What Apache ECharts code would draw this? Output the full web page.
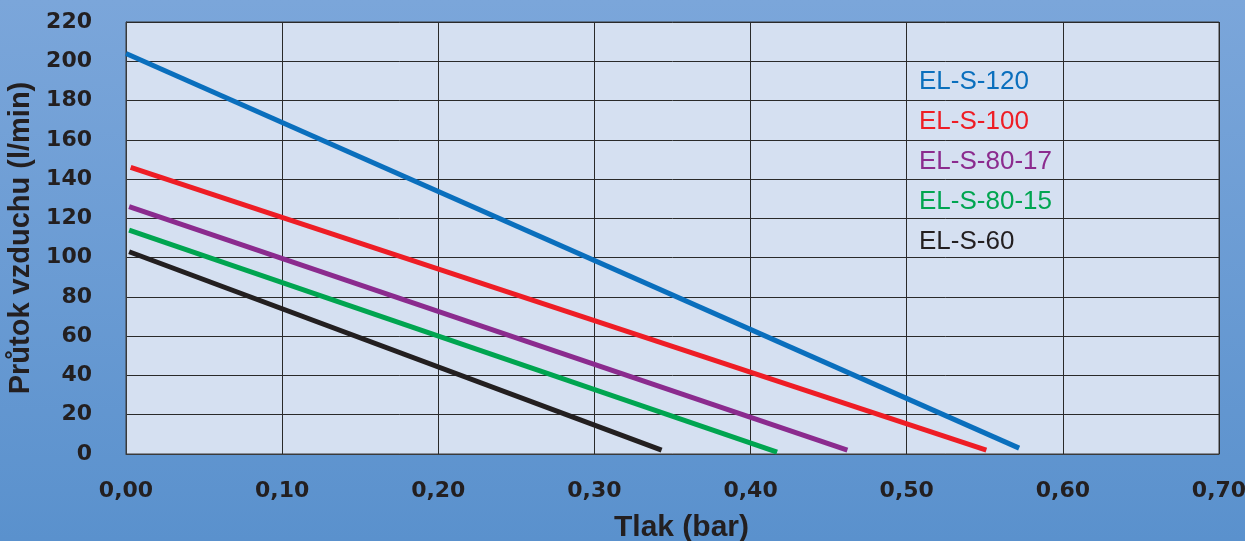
<!DOCTYPE html>
<html>
<head>
<meta charset="utf-8">
<script src="https://cdn.jsdelivr.net/npm/echarts@6/dist/echarts.min.js"></script>
<style>
html,body{margin:0;padding:0;}
#chart{width:1245px;height:541px;}
</style>
</head>
<body>
<div id="chart"></div>
<script>
// ---- data ----
var seriesNames = ['EL-S-120', 'EL-S-100', 'EL-S-80-17', 'EL-S-80-15', 'EL-S-60'];
var seriesColors = ['#0a6fbd', '#ee1d25', '#8b2b8e', '#00a550', '#231f20'];
// each line: [pressure (bar), air flow (l/min)] at start and end
var elS120 = [[0.000, 204], [0.572, 3]];
var elS100 = [[0.003, 146], [0.551, 2]];
var elS8017 = [[0.002, 126], [0.462, 2]];
var elS8015 = [[0.002, 114], [0.417, 1]];
var elS60 = [[0.002, 103], [0.343, 2]];
var seriesData = [elS120, elS100, elS8017, elS8015, elS60];
var xTicks = {min: 0, max: 0.7, interval: 0.1};
var yTicks = {min: 0, max: 220, interval: 20};
var xName = 'Tlak (bar)';
var yName = 'Průtok vzduchu (l/min)';

var chart = echarts.init(document.getElementById('chart'));
var tickFont = {fontFamily: 'DejaVu Sans', fontWeight: 'bold', fontSize: 22, color: '#231f20'};
var option = {
  animation: false,
  backgroundColor: new echarts.graphic.LinearGradient(0, 0, 0, 1, [
    {offset: 0, color: '#7ba6da'},
    {offset: 1, color: '#5a91cd'}
  ]),
  grid: {
    left: 126, right: 26, top: 22, bottom: 87,
    containLabel: false, outerBoundsMode: 'none',
    show: true, backgroundColor: '#d5e0f1', borderColor: '#3a3a3a', borderWidth: 1
  },
  legend: {
    orient: 'vertical', left: 914, top: 67, padding: 0,
    itemWidth: 0, itemHeight: 0, itemGap: 10, icon: 'rect',
    textStyle: {fontFamily: 'Liberation Sans', fontSize: 26, lineHeight: 30},
    data: seriesNames.map(function (n, i) {
      return {name: n, textStyle: {color: seriesColors[i]}};
    })
  },
  xAxis: {
    type: 'value', min: xTicks.min, max: xTicks.max, interval: xTicks.interval,
    name: xName, nameLocation: 'middle', nameGap: 59,
    nameTextStyle: {fontFamily: 'Liberation Sans', fontWeight: 'bold', fontSize: 30, color: '#231f20', padding: [0, 0, 0, 18]},
    axisLine: {show: true, lineStyle: {color: '#3a3a3a', width: 1}},
    axisTick: {show: false},
    axisLabel: Object.assign({margin: 26, formatter: function (v) { return v.toFixed(2).replace('.', ','); }}, tickFont),
    splitLine: {show: true, lineStyle: {color: '#2a2a2a', width: 1}}
  },
  yAxis: {
    type: 'value', min: yTicks.min, max: yTicks.max, interval: yTicks.interval,
    name: yName, nameLocation: 'middle', nameGap: 84,
    nameTextStyle: {fontFamily: 'Liberation Sans', fontWeight: 'bold', fontSize: 29, color: '#231f20'},
    axisLine: {show: true, lineStyle: {color: '#3a3a3a', width: 1}},
    axisTick: {show: false},
    axisLabel: Object.assign({margin: 34}, tickFont),
    splitLine: {show: true, lineStyle: {color: '#2a2a2a', width: 1}}
  },
  series: seriesNames.map(function (n, i) {
    return {
      name: n, type: 'line', data: seriesData[i], showSymbol: false,
      color: seriesColors[i],
      lineStyle: {width: 5, color: seriesColors[i]}
    };
  })
};
chart.setOption(option);
</script>
</body>
</html>
